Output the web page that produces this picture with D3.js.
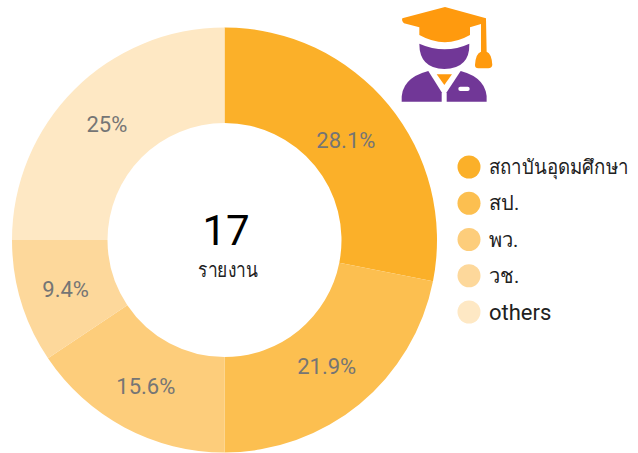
<!doctype html>
<head>
  <meta charset="utf-8">
  <title>Donut</title>
  <script src="https://d3js.org/d3.v7.min.js"></script>
  <style>
    html, body { margin: 0; padding: 0; background: #fff; }
    text { font-family: Roboto, "Noto Sans", sans-serif; }
    .pct { font-size: 22px; fill: #757575; text-anchor: middle; dominant-baseline: central; }
    .legend { font-size: 20px; fill: #212121; dominant-baseline: central; }
  </style>
</head>
<body>
  <div id="vis-canvas"></div>
  <script>
    var categories = ["สถาบันอุดมศึกษา", "สป.", "พว.", "วช.", "others"];
    var shares = [28.1, 21.9, 15.6, 9.4, 25];
    var shareLabels = ["28.1%", "21.9%", "15.6%", "9.4%", "25%"];
    var colors = ["#fbb029", "#fcbf50", "#fdcd7b", "#fdd89b", "#fee8c4"];
    var total = "17";
    var totalLabel = "รายงาน";

    var width = 638, height = 453;
    var cx = 224.5, cy = 240, outer = 212.5, inner = 117;

    var svg = d3.select("#vis-canvas").append("svg")
        .attr("width", width)
        .attr("height", height)
        .style("display", "block");

    var pie = d3.pie().sort(null).value(function(d) { return d; });
    var arc = d3.arc().innerRadius(inner).outerRadius(outer);
    var labelArc = d3.arc().innerRadius(165).outerRadius(165);

    var g = svg.append("g").attr("transform", "translate(" + cx + "," + cy + ")");

    g.selectAll("path").data(pie(shares)).enter().append("path")
        .attr("d", arc)
        .attr("fill", function(d, i) { return colors[i]; });

    g.selectAll(".pct").data(pie(shares)).enter().append("text")
        .attr("class", "pct")
        .attr("transform", function(d, i) {
          var c = labelArc.centroid(d);
          // the first two labels sit a bit closer in than the rest
          var k = i == 0 ? 0.96 : i == 1 ? 0.985 : 1;
          return "translate(" + (c[0] * k - 1) + "," + (c[1] * k + 1) + ")";
        })
        .text(function(d, i) { return shareLabels[i]; });

    g.append("text")
        .attr("text-anchor", "middle")
        .attr("x", 1.5)
        .attr("y", 5)
        .style("font-size", "42px")
        .style("fill", "#000")
        .text(total);

    g.append("text")
        .attr("text-anchor", "middle")
        .attr("x", 3.5)
        .attr("y", 37)
        .attr("textLength", 60)
        .attr("lengthAdjust", "spacingAndGlyphs")
        .style("font-size", "20px")
        .style("fill", "#212121")
        .text(totalLabel);

    // legend
    var legendY = d3.scalePoint().domain(categories).range([167, 312]);
    var legend = svg.append("g");
    legend.selectAll("circle").data(categories).enter().append("circle")
        .attr("cx", 469)
        .attr("cy", function(d) { return legendY(d); })
        .attr("r", 11.5)
        .attr("fill", function(d, i) { return colors[i]; });
    legend.selectAll("text").data(categories).enter().append("text")
        .attr("class", "legend")
        .attr("x", 489)
        .attr("y", function(d) { return legendY(d); })
        .style("font-size", function(d) { return d == "others" ? "22px" : null; })
        .attr("textLength", function(d, i) { return i == 0 ? 139 : null; })
        .attr("lengthAdjust", function(d, i) { return i == 0 ? "spacingAndGlyphs" : null; })
        .text(function(d) { return d; });

    // graduate icon, drawn in the 3x crop coordinates
    var icon = svg.append("g").attr("transform", "translate(390,0) scale(0.3333)");
    icon.append("path").attr("fill", "#ff9a0e")
        .attr("d", "M37 55 L165 21 L288 55 L290 155 Q305 160 307 195 Q305 205 295 205 L265 205 Q255 205 255 195 Q257 160 273 155 L273 72 L240 82 L240 105 Q165 148 88 105 L88 82 L42 70 Q34 62 37 55 Z");
    icon.append("path").attr("fill", "#713797")
        .attr("d", "M88 131 Q165 165 238 131 Q240 205 163 207 Q88 205 88 131 Z");
    icon.append("path").attr("fill", "#713797")
        .attr("d", "M115 213 L155 277 L155 305 L35 305 Q30 235 115 213 Z");
    icon.append("path").attr("fill", "#713797")
        .attr("d", "M212 213 L170 277 L170 305 L290 305 Q295 235 212 213 Z");
    icon.append("path").attr("fill", "#ff9a0e")
        .attr("d", "M140 223 L186 223 L163 255 Z");
    icon.append("rect").attr("fill", "#fff")
        .attr("x", 205).attr("y", 260).attr("width", 34).attr("height", 13).attr("rx", 6);
  </script>
</body>
